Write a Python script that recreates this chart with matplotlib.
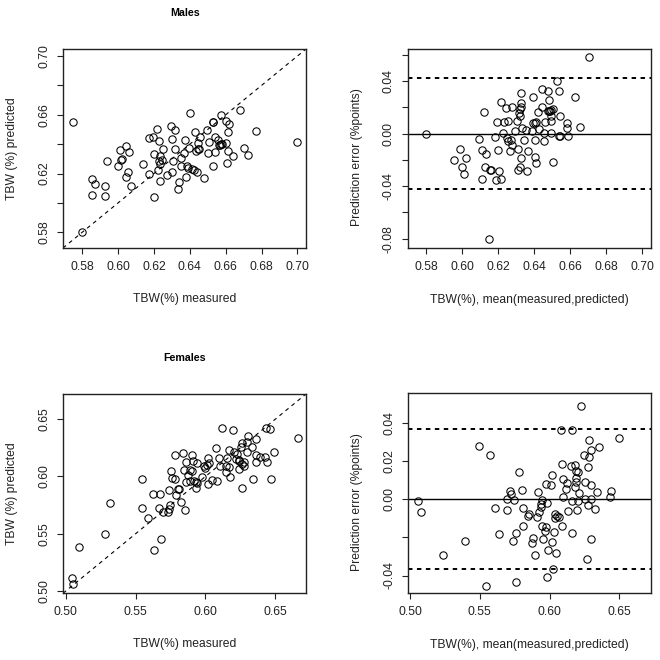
import numpy as np
import matplotlib
matplotlib.use("Agg")
import matplotlib.pyplot as plt

plt.rcParams['font.family'] = ['Liberation Sans', 'DejaVu Sans']

# ---- data ----
males_measured = [0.575, 0.580, 0.5855, 0.587, 0.5852, 0.5928, 0.5928, 0.5937, 0.600, 0.6015,
                  0.602, 0.6013, 0.6044, 0.6063, 0.6057, 0.6046, 0.6074, 0.6137, 0.6172, 0.617,
                  0.6196, 0.620, 0.620, 0.6216, 0.6231, 0.6236, 0.6225, 0.6232, 0.6229, 0.6244,
                  0.6235, 0.6249, 0.6275, 0.6296, 0.6303, 0.6305, 0.6303, 0.6316, 0.632, 0.6336,
                  0.6338, 0.6349, 0.6351, 0.6366, 0.6375, 0.6377, 0.6386, 0.639, 0.6395, 0.6399,
                  0.6414, 0.6427, 0.6425, 0.6434, 0.6442, 0.6443, 0.6447, 0.6454, 0.6458, 0.6477,
                  0.6497, 0.650, 0.6508, 0.6527, 0.6531, 0.653, 0.6543, 0.6543, 0.6558, 0.6562,
                  0.6568, 0.6575, 0.658, 0.6575, 0.660, 0.6603, 0.6612, 0.6612, 0.661, 0.6621,
                  0.6639, 0.6678, 0.670, 0.6723, 0.6767, 0.6996]
males_predicted = [0.655, 0.580, 0.616, 0.6127, 0.6054, 0.6113, 0.6049, 0.6285, 0.6254, 0.6294,
                   0.630, 0.6363, 0.639, 0.6349, 0.6211, 0.6174, 0.6115, 0.6265, 0.6195, 0.6444,
                   0.6449, 0.604, 0.6335, 0.650, 0.6419, 0.6322, 0.6224, 0.6263, 0.6283, 0.6292,
                   0.6149, 0.6369, 0.6188, 0.6524, 0.6433, 0.6283, 0.6208, 0.6494, 0.6367, 0.6095,
                   0.6145, 0.6254, 0.6308, 0.6342, 0.6428, 0.6176, 0.6251, 0.6235, 0.6376, 0.6612,
                   0.6229, 0.6485, 0.6224, 0.6353, 0.6208, 0.641, 0.6365, 0.637, 0.6451, 0.6172,
                   0.6494, 0.634, 0.6417, 0.6549, 0.6551, 0.6251, 0.6449, 0.6344, 0.6428, 0.6392,
                   0.6395, 0.640, 0.6402, 0.6596, 0.641, 0.656, 0.6356, 0.648, 0.6274, 0.6539,
                   0.6317, 0.663, 0.6374, 0.6326, 0.6492, 0.6412]

females_measured = [0.5047, 0.505, 0.5092, 0.5284, 0.5315, 0.5545, 0.5545, 0.559, 0.5626, 0.5635,
                    0.5664, 0.5671, 0.5685, 0.5694, 0.5735, 0.5739, 0.5744, 0.5742, 0.5751, 0.5758,
                    0.578, 0.578, 0.5789, 0.5801, 0.581, 0.5825, 0.5839, 0.5853, 0.5858, 0.5848,
                    0.5863, 0.5874, 0.5886, 0.5891, 0.5905, 0.5908, 0.5917, 0.5929, 0.5934, 0.5941,
                    0.5943, 0.5974, 0.5993, 0.600, 0.6012, 0.6017, 0.6019, 0.6024, 0.6047, 0.6073,
                    0.6085, 0.610, 0.6102, 0.6116, 0.6145, 0.6149, 0.6156, 0.6168, 0.6178, 0.6194,
                    0.6201, 0.6216, 0.6227, 0.6237, 0.6239, 0.6242, 0.6256, 0.6263, 0.6263, 0.6263,
                    0.6273, 0.6301, 0.6303, 0.6301, 0.6332, 0.6341, 0.636, 0.636, 0.636, 0.6393,
                    0.6429, 0.6436, 0.6462, 0.6441, 0.6467, 0.6488, 0.666, 0.6275, 0.617, 0.5903]
females_predicted = [0.5115, 0.5059, 0.5382, 0.5502, 0.5772, 0.5981, 0.5725, 0.5634, 0.5846, 0.5355,
                     0.5722, 0.5846, 0.5455, 0.5693, 0.5693, 0.5713, 0.5749, 0.5881, 0.6045, 0.5989,
                     0.6186, 0.5981, 0.5837, 0.589, 0.589, 0.5778, 0.6204, 0.5708, 0.6125, 0.6054,
                     0.5954, 0.6013, 0.6054, 0.596, 0.6186, 0.6133, 0.596, 0.5954, 0.5895, 0.5945,
                     0.6116, 0.5995, 0.6092, 0.6078, 0.6101, 0.6157, 0.5937, 0.6116, 0.5972, 0.6248,
                     0.5957, 0.6163, 0.6089, 0.6427, 0.6089, 0.6042, 0.6163, 0.6227, 0.5995, 0.6403,
                     0.621, 0.6151, 0.6195, 0.6148, 0.6063, 0.6133, 0.6257, 0.6295, 0.6113, 0.5901,
                     0.613, 0.6298, 0.6354, 0.621, 0.6257, 0.5978, 0.6324, 0.6189, 0.613, 0.6171,
                     0.6171, 0.6424, 0.6418, 0.613, 0.5978, 0.6215, 0.634, 0.6095, 0.6086, 0.6051]

males_limits = [0.0425, -0.042]
females_limits = [0.0367, -0.0365]

titles = ["Males", "Females"]
xlabel_scatter = "TBW(%) measured"
ylabel_scatter = "TBW (%) predicted"
xlabel_ba = "TBW(%), mean(measured,predicted)"
ylabel_ba = "Prediction error (%points)"

# ---- figure ----
W = H = 660
fig = plt.figure(figsize=(6.6, 6.6), dpi=100)

def rect(l, t, r, b):
    return [l / W, 1 - b / H, (r - l) / W, (b - t) / H]

FS = 8.7
TC = "#222222"

def style(ax):
    for s in ax.spines.values():
        s.set_linewidth(1.0)
        s.set_color("#222222")
    ax.tick_params(direction="out", length=4.3, width=0.8, pad=5, labelsize=FS,
                   colors=TC)
    for lab in ax.get_yticklabels():
        lab.set_rotation(90)
        lab.set_va("center")

def scatter(ax, x, y):
    ax.plot(x, y, linestyle="none", marker="o", markersize=5.3,
            markerfacecolor="none", markeredgecolor="black", markeredgewidth=0.75)

def set_ticks(ax, axis, ticks, labeled):
    labels = [("%.2f" % t).replace("-0.00", "0.00") if any(abs(t - l) < 1e-9 for l in labeled) else ""
              for t in ticks]
    if axis == "x":
        ax.set_xticks(ticks)
        ax.set_xticklabels(labels)
    else:
        ax.set_yticks(ticks)
        ax.set_yticklabels(labels)

panels = [
    dict(meas=males_measured, pred=males_predicted, lim=males_limits,
         sc_rect=rect(63, 49, 306, 248), ba_rect=rect(407.7, 49, 650.7, 248),
         sc_lim=(0.5693, 0.7048), ba_xlim=(0.5696, 0.7048), ba_ylim=(-0.0871, 0.0643),
         xt=[0.58, 0.60, 0.62, 0.64, 0.66, 0.68, 0.70], xt_lab=[0.58, 0.60, 0.62, 0.64, 0.66, 0.68, 0.70],
         yt=[0.58, 0.60, 0.62, 0.64, 0.66, 0.68, 0.70], yt_lab=[0.58, 0.62, 0.66, 0.70],
         bat=[-0.08, -0.06, -0.04, -0.02, 0.0, 0.02, 0.04, 0.06], bat_lab=[-0.08, -0.04, 0.0, 0.04],
         off=0),
    dict(meas=females_measured, pred=females_predicted, lim=females_limits,
         sc_rect=rect(63, 394, 306, 593.3), ba_rect=rect(408.3, 393.3, 651, 593.3),
         sc_lim=(0.498, 0.672), ba_xlim=(0.4988, 0.6727), ba_ylim=(-0.0493, 0.0555),
         xt=[0.50, 0.55, 0.60, 0.65], xt_lab=[0.50, 0.55, 0.60, 0.65],
         yt=[0.50, 0.55, 0.60, 0.65], yt_lab=[0.50, 0.55, 0.60, 0.65],
         bat=[-0.04, -0.02, 0.0, 0.02, 0.04], bat_lab=[-0.04, 0.0, 0.02, 0.04],
         off=345),
]

for i, p in enumerate(panels):
    m = np.array(p["meas"])
    pr = np.array(p["pred"])
    mean_mp = (m + pr) / 2
    err = m - pr

    ax = fig.add_axes(p["sc_rect"])
    scatter(ax, m, pr)
    ax.axline((0.0, 0.0), slope=1, color="black", lw=0.8, linestyle=(0, (3.5, 3.5)))
    ax.set_xlim(*p["sc_lim"])
    ax.set_ylim(*p["sc_lim"])
    set_ticks(ax, "x", p["xt"], p["xt_lab"])
    set_ticks(ax, "y", p["yt"], p["yt_lab"])
    style(ax)

    ax2 = fig.add_axes(p["ba_rect"])
    scatter(ax2, mean_mp, err)
    ax2.axhline(0.0, color="black", lw=1.0)
    for v in p["lim"]:
        ax2.axhline(v, color="black", lw=1.4, linestyle=(0, (2.3, 2.3)))
    ax2.set_xlim(*p["ba_xlim"])
    ax2.set_ylim(*p["ba_ylim"])
    set_ticks(ax2, "x", p["xt"], p["xt_lab"])
    set_ticks(ax2, "y", p["bat"], p["bat_lab"])
    style(ax2)

    off = p["off"]
    fig.text(184.7 / W, 1 - (13.3 + off) / H, titles[i], ha="center", va="center",
             fontsize=7.7, fontweight="bold", color="black")
    fig.text(184.7 / W, 1 - (299 + off) / H, xlabel_scatter, ha="center", va="center",
             fontsize=FS, color=TC)
    fig.text(12.3 / W, 1 - (148.3 + off) / H, ylabel_scatter, ha="center", va="center",
             rotation=90, fontsize=FS, color=TC)
    fig.text(529.5 / W, 1 - (300 + off) / H, xlabel_ba, ha="center", va="center",
             fontsize=FS, color=TC)
    fig.text(357.3 / W, 1 - (156.7 + off) / H, ylabel_ba, ha="center", va="center",
             rotation=90, fontsize=FS, color=TC)

fig.savefig("out.png", dpi=100, facecolor="white")
